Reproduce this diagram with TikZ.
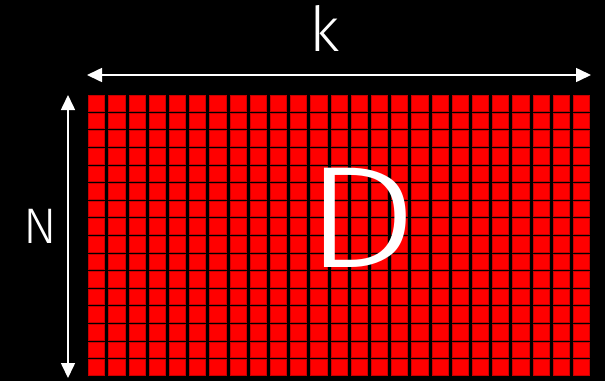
\documentclass[tikz,border=0pt]{standalone}
\usepackage{fontspec}
\setmainfont{Fira Sans}
\newfontfamily\thinfont{Fira Sans Light}
\usetikzlibrary{arrows.meta}
\definecolor{cellred}{RGB}{255,0,0}
\definecolor{celledge}{RGB}{200,0,0}
\tikzset{
  cell/.style={fill=cellred, draw=celledge, line width=0.4pt},
  dimarrow/.style={white, line width=1.6pt, {Triangle[length=15pt,width=14pt]}-{Triangle[length=15pt,width=14pt]}},
  dimlabel/.style={text=white, inner sep=0pt}
}

\begin{document}
\begin{tikzpicture}[x=1pt, y=-1pt]
  \fill[black] (0,0) rectangle (605,381);
  \useasboundingbox (0,0) rectangle (605,381);

  % 25 x 16 cells
  \foreach \col in {0,...,24} {
    \foreach \row in {0,...,15} {
      \path[cell] ({88.3+20.2*\col},{95.3+17.6*\row}) rectangle +(16.2,15.6);
    }
  }

  \coordinate (kleft) at (87,75);
  \coordinate (kright) at (591,75);
  \coordinate (ntop) at (68,95);
  \coordinate (nbottom) at (68,378);

  \draw[dimarrow] (kleft) -- (kright);
  \draw[dimarrow] (ntop) -- (nbottom);

  \node[dimlabel, font=\thinfont\fontsize{62}{62}\selectfont] (klabel) at (325,28.5) {k};
  \node[dimlabel, font=\thinfont\fontsize{50}{50}\selectfont] (nlabel) at (40,226) {N};
  \node[dimlabel, xscale=1.24, font=\thinfont\fontsize{145}{145}\selectfont] (dlabel) at (361,218) {D};
\end{tikzpicture}
\end{document}
